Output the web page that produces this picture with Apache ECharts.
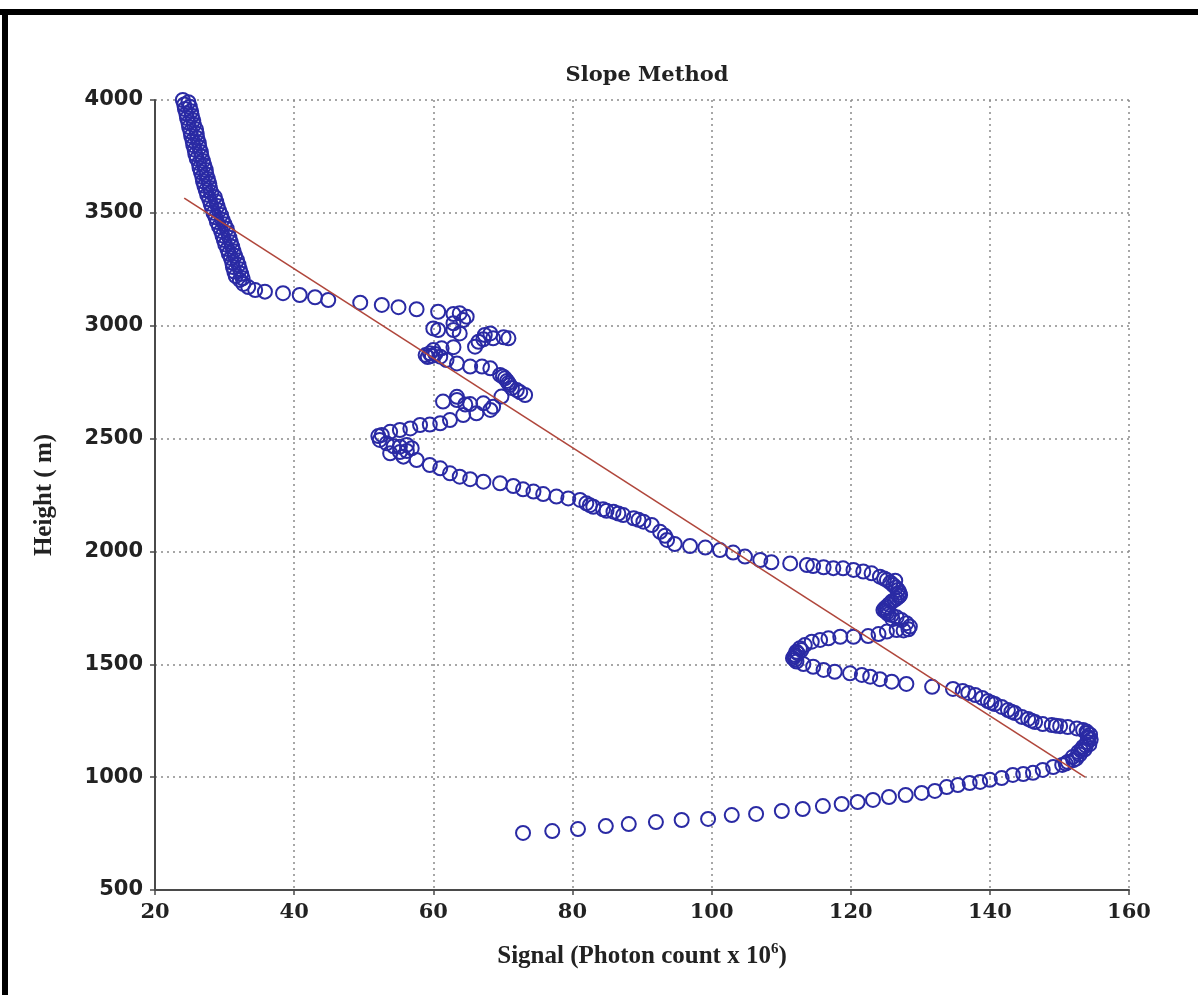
<!DOCTYPE html>
<html>
<head>
<meta charset="utf-8">
<script src="https://cdn.jsdelivr.net/npm/echarts@6/dist/echarts.min.js"></script>
<style>
html,body{margin:0;padding:0;background:#fff;}
#chart{width:1198px;height:995px;}
</style>
</head>
<body>
<div id="chart"></div>
<script>
// Axis ticks
const xTicks = [20, 40, 60, 80, 100, 120, 140, 160];
const yTicks = [500, 1000, 1500, 2000, 2500, 3000, 3500, 4000];

// Profile points [signal (x10^6), height (m)], by segment
const bottomArm = [
  [72.9,753],[77.1,761],[80.8,770],[84.8,783],[88.1,792],[92.0,801],[95.7,810],[99.5,815],
  [102.9,832],[106.4,837],[110.1,850],[113.1,859],[116.0,872],[118.7,881],[121.0,890],[123.2,899],
  [125.5,912],[127.9,921],[130.2,930],[132.1,939],[133.8,956],[135.4,965],[137.1,974],[138.6,979],
  [140.0,988],[141.7,996],[143.3,1010],[144.8,1014],[146.2,1019],[147.6,1032],[149.1,1045],[150.4,1054],
  [151.2,1067],[152.0,1075],[151.9,1089],[152.9,1100],[152.7,1111],[153.6,1122],[153.4,1134],[154.3,1145],
  [154.0,1156],[154.5,1167],[154.1,1178],[154.4,1188],[154.0,1196],[153.4,1209],
  [150.9,1060],[152.4,1082],[153.1,1118],[153.8,1140],[154.2,1172],[153.9,1202]
];
const upperArm = [
  [152.5,1216],[151.2,1222],[150.1,1226],[148.9,1231],[147.6,1235],[146.5,1244],[145.5,1258],[144.6,1267],
  [143.6,1284],[142.6,1297],[141.7,1311],[140.7,1324],[139.7,1337],[138.9,1351],[137.9,1364],[136.9,1373],
  [136.1,1382],[134.7,1391],[131.7,1400],[149.5,1228],[146.0,1250],[143.1,1290],[140.2,1330]
];
const sShape = [
  [128.0,1413],[125.9,1423],[124.2,1434],[122.8,1445],[121.6,1453],[119.9,1460],[117.7,1467],[116.1,1475],
  [114.6,1489],[113.2,1501],[112.2,1512],[111.7,1527],[112.0,1541],[112.2,1556],[112.7,1571],[113.4,1585],
  [114.4,1600],[115.6,1608],[116.8,1615],[118.5,1622],[120.4,1622],[122.5,1625],[124.0,1634],[125.2,1645],
  [126.6,1652],[127.6,1650],[128.3,1655],[128.5,1667],[128.0,1682],[127.3,1696],[126.0,1700],[126.6,1708],
  [125.9,1718],[125.4,1722],[125.2,1729],[124.7,1740],[125.2,1755],[125.5,1765],[125.9,1778],[126.3,1785],
  [126.6,1792],[127.1,1807],[127.0,1818],[126.8,1829],[126.5,1840],[126.1,1851],[125.7,1862],[125.2,1873],
  [124.2,1888],[123.0,1903],[121.8,1911],[120.4,1918],[118.9,1925],[117.5,1926],[116.1,1930],[114.6,1935],
  [113.7,1940],[111.3,1947],[108.6,1952],[107.0,1962],
  [112.0,1520],[111.9,1534],[112.4,1548],[112.9,1563],[124.9,1748],[125.0,1735],[126.9,1800],[126.4,1870],
  [124.8,1880]
];
const diagonal = [
  [104.8,1977],[103.1,1995],[101.2,2006],[99.1,2017],[96.9,2024],[94.7,2033],[93.6,2051],[93.3,2069],
  [92.6,2087],[91.4,2117],[90.2,2132],[89.5,2140],[88.8,2147],[87.3,2161],[86.6,2168],[85.9,2176],
  [84.9,2180],[84.4,2187],[83.0,2198],[82.5,2205],[82.0,2213],[81.1,2228],[79.4,2235],[77.7,2243],
  [75.8,2254],[74.4,2265],[72.9,2275],[71.5,2290],[69.6,2302],[67.2,2309],[65.3,2320],[63.8,2331],
  [62.4,2346],[61.0,2368],[59.5,2383],[57.6,2405],[55.7,2420],[53.8,2435]
];
const zigzag = [
  [55.2,2440],[56.2,2445],[56.9,2457],[56.2,2472],[55.2,2464],[54.3,2466],[53.3,2479],[52.3,2494],
  [52.1,2511],[52.6,2516],[53.8,2530],[55.2,2538],[56.7,2545],[58.1,2560],[59.5,2562],[61.0,2568],
  [62.4,2582],[64.3,2604],[66.2,2612],[68.2,2627],[68.6,2641],[67.2,2656],[65.3,2653],[64.6,2651],
  [63.4,2671],[61.4,2664],[63.4,2685],[69.8,2686],[73.2,2693],[72.0,2715],[71.3,2724],[71.0,2737],
  [70.6,2755],[70.3,2767],[69.6,2782],[68.2,2811],[67.0,2819],[65.3,2819],[63.4,2833],[61.9,2848],
  [61.0,2863],[59.2,2861],[59.8,2866],[58.9,2870],[60.3,2875],[59.5,2878],[60.0,2892],[61.2,2900],
  [62.9,2905],[66.0,2907],[66.5,2929],[67.2,2940],[68.6,2944],[70.1,2949],[70.8,2944],[68.2,2966],
  [67.4,2959],[63.8,2966],[62.9,2981],[60.7,2981],[60.0,2988],[62.9,3011],[64.3,3025],[64.8,3040],
  [63.8,3055],[62.9,3052],[60.7,3062],[72.5,2705],[70.8,2746],[70.0,2775]
];
const topRow = [
  [57.6,3073],[55.0,3082],[52.6,3092],[49.5,3102],[44.9,3114],[43.0,3126],[40.8,3136],[38.4,3144],
  [35.8,3151],[34.4,3158],[33.4,3171],[32.7,3185],[32.2,3203]
];
const topBand = [
  [24.0,4000],[24.8,3990],[24.2,3980],[25.0,3970],[24.3,3960],[25.2,3950],[24.5,3940],[25.3,3930],
  [24.6,3920],[25.5,3910],[24.8,3900],[25.6,3890],[24.9,3880],[25.9,3870],[25.1,3860],[26.0,3850],
  [25.2,3840],[26.1,3830],[25.4,3820],[26.3,3810],[25.5,3800],[26.4,3790],[25.7,3780],[26.6,3770],
  [25.8,3760],[26.7,3750],[26.0,3740],[26.9,3730],[26.3,3720],[27.1,3710],[26.4,3700],[27.3,3690],
  [26.6,3680],[27.4,3670],[26.8,3660],[27.6,3650],[26.9,3640],[27.8,3630],[27.1,3620],[27.9,3610],
  [27.3,3600],[28.1,3590],[27.5,3580],[28.6,3570],[27.8,3560],[28.8,3550],[28.0,3540],[29.0,3530],
  [28.2,3520],[29.2,3510],[28.4,3500],[29.5,3490],[28.7,3480],[29.7,3470],[28.9,3460],[30.0,3450],
  [29.2,3440],[30.3,3430],[29.5,3420],[30.5,3410],[29.7,3400],[30.7,3390],[29.9,3380],[30.9,3370],
  [30.1,3360],[31.1,3350],[30.4,3340],[31.3,3330],[30.6,3320],[31.5,3310],[30.9,3300],[31.8,3290],
  [31.1,3280],[32.0,3270],[31.2,3260],[32.2,3250],[31.4,3240],[32.4,3230],[31.6,3220],[32.6,3210]
];
// Linear fit line (slope method)
const fitLine = [[24.2,3565],[153.7,1000]];

const profile = [].concat(bottomArm, upperArm, sShape, diagonal, zigzag, topRow, topBand);

const chart = echarts.init(document.getElementById('chart'), null, {renderer:'canvas'});
const gridLine = {show:true, lineStyle:{color:'#8a8a8a', type:[2,4], width:1.5}};
chart.setOption({
  animation:false,
  backgroundColor:'#ffffff',
  title:{
    text:'Slope Method', left:642, top:60, textAlign:'center',
    textStyle:{fontFamily:'DejaVu Serif', fontWeight:'bold', fontSize:21, color:'#222'}
  },
  graphic:[
    {type:'rect', shape:{x:0, y:9, width:1198, height:6}, style:{fill:'#000'}, silent:true},
    {type:'rect', shape:{x:2, y:9, width:6, height:986}, style:{fill:'#000'}, silent:true}
  ],
  grid:{left:155, right:69, top:100, bottom:105, containLabel:false},
  xAxis:{
    type:'value', min:xTicks[0], max:xTicks[xTicks.length-1], interval:20,
    name:'{a|Signal (Photon count x 10}{s|6}{a|)}',
    nameLocation:'middle', nameGap:52,
    nameTextStyle:{
      rich:{
        a:{fontFamily:'Liberation Serif', fontWeight:'bold', fontSize:25, color:'#222'},
        s:{fontFamily:'Liberation Serif', fontWeight:'bold', fontSize:15, color:'#222', padding:[0,0,14,0]}
      }
    },
    axisLine:{show:true, lineStyle:{color:'#4a4a4a', width:2}},
    axisTick:{show:true, length:5, lineStyle:{color:'#4a4a4a', width:1.5}},
    axisLabel:{margin:12, fontFamily:'DejaVu Serif', fontWeight:'bold', fontSize:21, color:'#222',
      formatter:function(v){return String(v);}},
    splitLine:gridLine
  },
  yAxis:{
    type:'value', min:yTicks[0], max:yTicks[yTicks.length-1], interval:500,
    name:'Height ( m)', nameLocation:'middle', nameGap:98, nameRotate:90,
    nameTextStyle:{fontFamily:'Liberation Serif', fontWeight:'bold', fontSize:25, color:'#222'},
    axisLine:{show:true, lineStyle:{color:'#4a4a4a', width:2}},
    axisTick:{show:true, length:5, lineStyle:{color:'#4a4a4a', width:1.5}},
    axisLabel:{margin:12, fontFamily:'DejaVu Sans', fontWeight:'bold', fontSize:21, color:'#222',
      formatter:function(v){return String(v);}},
    splitLine:gridLine
  },
  series:[
    {
      type:'scatter', data:profile, symbol:'circle', symbolSize:14,
      itemStyle:{color:'rgba(0,0,0,0)', borderColor:'#2a2aa4', borderWidth:2, opacity:1},
      z:2
    },
    {
      type:'line', data:fitLine, symbol:'none', silent:true,
      lineStyle:{color:'#b0473c', width:1.6}, z:3
    }
  ]
});
</script>
</body>
</html>
